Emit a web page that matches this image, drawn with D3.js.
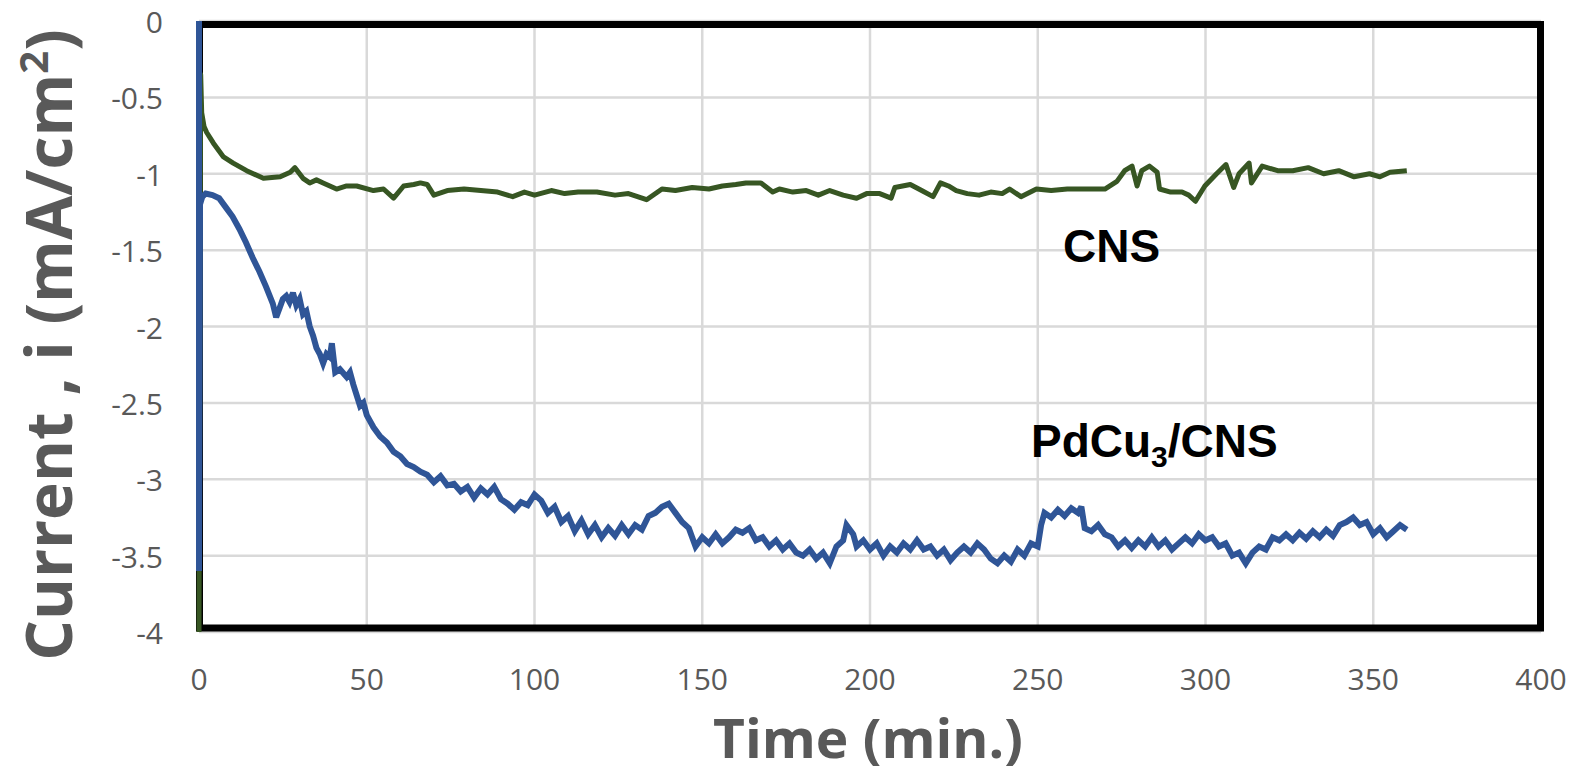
<!DOCTYPE html>
<html>
<head>
<meta charset="utf-8">
<script src="https://cdn.jsdelivr.net/npm/d3@7"></script>
<style>
  html, body { margin: 0; padding: 0; background: #ffffff; }
  svg { display: block; }
</style>
</head>
<body>
<svg id="chart" width="1573" height="775"></svg>
<script>
// ---------- DATA ----------
const xTicks = [0, 50, 100, 150, 200, 250, 300, 350, 400];
const yTicks = [0, -0.5, -1, -1.5, -2, -2.5, -3, -3.5, -4];
const yTickLabels = ["0", "-0.5", "-1", "-1.5", "-2", "-2.5", "-3", "-3.5", "-4"];

// CNS (green) : time (min), current (mA/cm2)
const cnsTime = [0, 0.5, 0.8, 1.5, 2.3, 4.3, 7.3, 10.2, 14.2, 19.2, 24.2, 27.2, 28.6, 31, 33, 35, 37, 41, 44, 47,
  52, 55, 58, 61, 64, 66, 68, 70, 74, 79, 84, 89, 93.5, 97, 100, 105, 109, 113, 118.6, 124,
  128, 133.4, 138, 142, 147, 152, 156, 160, 163, 167.5, 171, 173, 177, 181, 184.6, 188, 192, 196, 199, 202.9,
  206.3, 207.4, 212, 215.4, 218.8, 221, 223.4, 225.7, 229, 232.5, 236, 239.4, 241.6, 245, 249.6, 254, 258.8, 264, 270, 273.6,
  275.9, 278.1, 279.6, 281, 283.3, 285.6, 286.3, 289.6, 293, 295, 297, 299.8, 303.3, 306.1, 308.4, 310, 313, 313.7, 316.9, 321.5,
  326, 330.6, 335.2, 339.7, 344.3, 348.9, 352, 355, 360];
const cnsCurrent = [-4, -0.35, -0.6, -0.69, -0.73, -0.80, -0.89, -0.93, -0.98, -1.03, -1.02, -0.99, -0.96, -1.03, -1.06, -1.04, -1.06, -1.10, -1.08, -1.08,
  -1.11, -1.10, -1.16, -1.08, -1.07, -1.06, -1.07, -1.14, -1.11, -1.10, -1.11, -1.12, -1.15, -1.12, -1.14, -1.11, -1.13, -1.12, -1.12, -1.14,
  -1.13, -1.17, -1.10, -1.11, -1.09, -1.10, -1.08, -1.07, -1.06, -1.06, -1.12, -1.10, -1.12, -1.11, -1.14, -1.11, -1.14, -1.16, -1.13, -1.13,
  -1.16, -1.09, -1.07, -1.11, -1.15, -1.06, -1.08, -1.11, -1.13, -1.14, -1.12, -1.13, -1.10, -1.15, -1.10, -1.11, -1.10, -1.10, -1.10, -1.05,
  -0.98, -0.95, -1.08, -0.98, -0.95, -0.99, -1.10, -1.12, -1.12, -1.14, -1.18, -1.08, -1.00, -0.94, -1.09, -1.00, -0.93, -1.06, -0.95, -0.98,
  -0.98, -0.96, -1.00, -0.98, -1.02, -1.00, -1.02, -0.99, -0.98];

// PdCu3/CNS (blue)
const pdTime = [0, 0, 0.3, 1, 2, 4, 6, 8, 10, 12, 14, 16, 18, 20, 22, 23, 24, 25, 26, 27,
  28, 29, 30, 31, 32, 33, 34, 35, 36, 37, 38, 39, 39.6, 40.6, 42, 44, 45, 46, 47, 48,
  49, 50, 52, 54, 56, 58, 60, 62, 64, 66, 68, 70, 72, 74, 76, 78, 80, 82, 84, 86,
  88, 90, 92, 94, 96, 98, 100, 102, 104, 106, 108, 110, 112, 114, 116, 118, 120, 122, 124, 126,
  128, 130, 132, 134, 136, 138, 140, 142, 144, 146, 148, 150, 152, 154, 156, 158, 160, 162, 164, 166,
  168, 170, 172, 174, 176, 178, 180, 182, 184, 186, 188, 190, 192, 193, 195, 196, 198, 200, 202, 204,
  206, 208, 210, 212, 214, 216, 218, 220, 222, 224, 226, 228, 230, 232, 234, 236, 238, 240, 242, 244,
  246, 248, 250, 251, 252, 254, 256, 258, 260, 262, 263, 264, 266, 268, 270, 272, 274, 276, 278, 280,
  282, 284, 286, 288, 290, 292, 294, 296, 298, 300, 302, 304, 306, 308, 310, 312, 314, 316, 318, 320,
  322, 324, 326, 328, 330, 332, 334, 336, 338, 340, 342, 344, 346, 348, 350, 352, 354, 356, 358, 360];
const pdCurrent = [0, -3.6, -1.2, -1.15, -1.13, -1.14, -1.16, -1.22, -1.28, -1.36, -1.45, -1.55, -1.64, -1.74, -1.85, -1.94, -1.88, -1.82, -1.80, -1.84,
  -1.78, -1.86, -1.82, -1.92, -1.90, -2.00, -2.06, -2.14, -2.18, -2.24, -2.18, -2.20, -2.11, -2.30, -2.28, -2.33, -2.30, -2.38, -2.45, -2.52,
  -2.50, -2.58, -2.66, -2.72, -2.76, -2.82, -2.85, -2.90, -2.92, -2.95, -2.97, -3.02, -2.98, -3.04, -3.03, -3.08, -3.05, -3.12, -3.06, -3.10,
  -3.05, -3.13, -3.16, -3.20, -3.15, -3.17, -3.10, -3.14, -3.22, -3.18, -3.28, -3.24, -3.34, -3.27, -3.36, -3.30, -3.38, -3.32, -3.37, -3.30,
  -3.36, -3.30, -3.33, -3.24, -3.22, -3.18, -3.16, -3.22, -3.28, -3.32, -3.44, -3.38, -3.42, -3.36, -3.42, -3.38, -3.33, -3.35, -3.32, -3.40,
  -3.38, -3.44, -3.40, -3.46, -3.42, -3.48, -3.50, -3.46, -3.52, -3.48, -3.55, -3.44, -3.40, -3.30, -3.36, -3.44, -3.40, -3.46, -3.42, -3.50,
  -3.44, -3.48, -3.42, -3.46, -3.40, -3.46, -3.44, -3.50, -3.46, -3.53, -3.48, -3.44, -3.48, -3.42, -3.46, -3.52, -3.55, -3.50, -3.54, -3.46,
  -3.50, -3.42, -3.44, -3.30, -3.22, -3.25, -3.20, -3.24, -3.19, -3.22, -3.18, -3.32, -3.34, -3.30, -3.36, -3.38, -3.44, -3.40, -3.45, -3.40,
  -3.44, -3.38, -3.44, -3.40, -3.46, -3.42, -3.38, -3.42, -3.36, -3.40, -3.38, -3.44, -3.42, -3.50, -3.48, -3.55, -3.48, -3.44, -3.46, -3.38,
  -3.40, -3.36, -3.40, -3.35, -3.39, -3.34, -3.38, -3.33, -3.37, -3.30, -3.28, -3.25, -3.30, -3.28, -3.36, -3.32, -3.38, -3.34, -3.30, -3.33];

// ---------- CHART ----------
const svg = d3.select("#chart");
const x = d3.scaleLinear().domain([0, 400]).range([199, 1541]);
const y = d3.scaleLinear().domain([-4, 0]).range([632, 21]);

const grid = "#d9d9d9";
const textGrey = "#595959";

// gridlines
svg.append("g").selectAll("line.v").data(xTicks).join("line")
  .attr("x1", d => x(d)).attr("x2", d => x(d))
  .attr("y1", y(0)).attr("y2", y(-4))
  .attr("stroke", grid).attr("stroke-width", 2.5);
svg.append("g").selectAll("line.h").data(yTicks).join("line")
  .attr("x1", x(0)).attr("x2", x(400))
  .attr("y1", d => y(d)).attr("y2", d => y(d))
  .attr("stroke", grid).attr("stroke-width", 2.5);

// frame
svg.append("rect")
  .attr("x", x(0) + 0.5).attr("y", y(0) + 3.5)
  .attr("width", x(400) - x(0) - 1).attr("height", y(-4) - y(0) - 7.5)
  .attr("fill", "none").attr("stroke", "#000").attr("stroke-width", 7);

// tick labels
svg.append("g").selectAll("text").data(yTicks).join("text")
  .attr("x", 163).attr("y", d => y(d) + 12)
  .attr("text-anchor", "end")
  .attr("font-family", "Open Sans, sans-serif").attr("font-size", 30)
  .attr("fill", textGrey)
  .text((d, i) => yTickLabels[i]);

svg.append("g").selectAll("text").data(xTicks).join("text")
  .attr("x", d => x(d)).attr("y", 690)
  .attr("text-anchor", "middle")
  .attr("font-family", "Open Sans, sans-serif").attr("font-size", 30)
  .attr("fill", textGrey)
  .text(d => d);

// series
const line = d3.line().x(d => x(d[0])).y(d => y(d[1]));
const cns = cnsTime.map((t, i) => [t, cnsCurrent[i]]);
const pd = pdTime.map((t, i) => [t, pdCurrent[i]]);

svg.append("path").datum(cns).attr("d", line)
  .attr("fill", "none").attr("stroke", "#375623").attr("stroke-width", 5)
  .attr("stroke-linejoin", "round");
svg.append("path").datum(pd).attr("d", line)
  .attr("fill", "none").attr("stroke", "#2F5597").attr("stroke-width", 6)
  .attr("stroke-linejoin", "miter").attr("stroke-miterlimit", 3);

// axis titles
svg.append("text")
  .attr("x", 868).attr("y", 758)
  .attr("text-anchor", "middle")
  .attr("font-family", "Open Sans, sans-serif").attr("font-weight", "bold")
  .attr("font-size", 54).attr("fill", textGrey)
  .attr("textLength", 310).attr("lengthAdjust", "spacingAndGlyphs")
  .text("Time (min.)");

const yt = svg.append("text")
  .attr("transform", "translate(72,345) rotate(-90)")
  .attr("text-anchor", "middle")
  .attr("font-family", "Open Sans, sans-serif").attr("font-weight", "bold")
  .attr("font-size", 64).attr("fill", textGrey);
yt.append("tspan").text("Current , i (mA/cm");
yt.append("tspan").attr("font-size", 40).attr("dy", -24).text("2");
yt.append("tspan").attr("dy", 24).text(")");

// annotations
svg.append("text")
  .attr("x", 1063).attr("y", 262)
  .attr("font-family", "Liberation Sans, Arial, sans-serif").attr("font-weight", "bold")
  .attr("font-size", 46).attr("fill", "#000")
  .text("CNS");

const pt = svg.append("text")
  .attr("x", 1031).attr("y", 457)
  .attr("font-family", "Liberation Sans, Arial, sans-serif").attr("font-weight", "bold")
  .attr("font-size", 46).attr("fill", "#000");
pt.append("tspan").text("PdCu");
pt.append("tspan").attr("font-size", 30).attr("dy", 10).text("3");
pt.append("tspan").attr("dy", -10).text("/CNS");
</script>
</body>
</html>
